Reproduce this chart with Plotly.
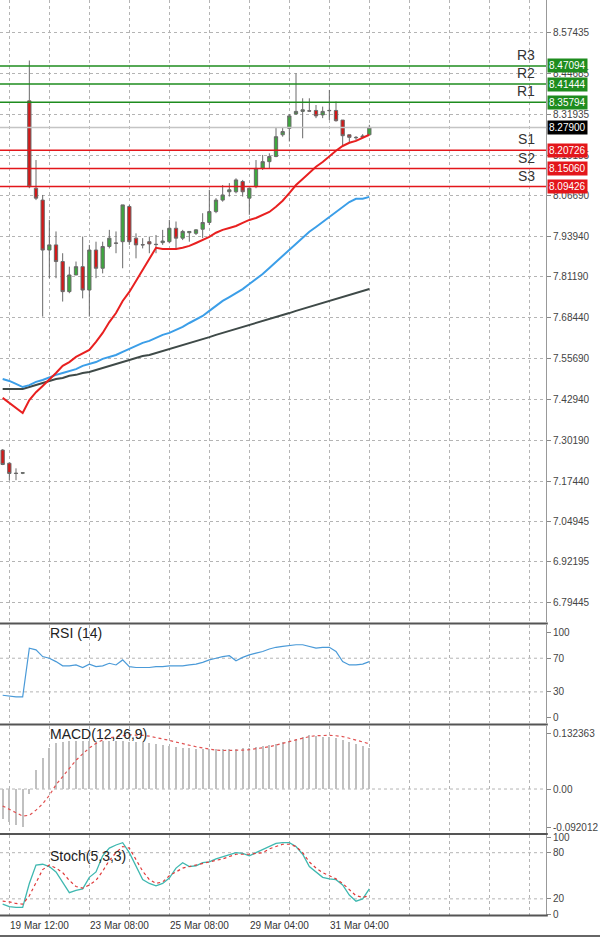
import plotly.graph_objects as go

W, H = 600, 938
idx = list(range(56))

opens  = [7.271,7.230,7.199,7.199,8.362,8.089,8.052,7.896,7.912,7.860,7.766,7.818,7.844,7.771,7.896,7.839,7.907,7.918,7.922,8.032,
          7.933,7.913,7.922,7.914,7.919,7.922,7.964,7.933,7.950,7.948,7.961,7.982,8.016,8.052,8.078,8.078,8.110,8.058,8.094,8.151,
          8.172,8.188,8.256,8.276,8.321,8.329,8.331,8.332,8.318,8.331,8.332,8.302,8.256,8.248,8.248,8.256]
highs  = [7.274,7.232,7.214,7.202,8.488,8.177,8.068,7.990,7.954,7.886,7.844,7.860,7.938,7.912,7.922,7.922,7.959,7.954,8.037,8.037,
          7.948,7.933,7.938,7.943,7.959,7.990,7.985,7.959,7.954,7.961,8.011,8.084,8.058,8.099,8.105,8.120,8.115,8.089,8.177,8.193,
          8.198,8.280,8.280,8.321,8.448,8.370,8.370,8.349,8.344,8.396,8.360,8.302,8.256,8.252,8.258,8.287]
lows   = [7.224,7.177,7.177,7.196,8.089,8.052,7.688,7.808,7.808,7.735,7.761,7.818,7.745,7.688,7.808,7.823,7.901,7.886,7.839,7.912,
          7.870,7.901,7.886,7.886,7.912,7.917,7.896,7.927,7.922,7.943,7.933,7.974,8.011,8.047,8.063,8.073,8.063,8.006,8.089,8.146,
          8.151,8.186,8.250,8.235,8.318,8.245,8.329,8.308,8.308,8.302,8.297,8.221,8.230,8.240,8.248,8.256]
closes = [7.226,7.198,7.198,7.200,8.094,8.058,7.896,7.912,7.860,7.766,7.818,7.844,7.771,7.896,7.839,7.907,7.933,7.917,8.037,7.922,
          7.912,7.912,7.915,7.913,7.924,7.964,7.933,7.954,7.954,7.959,7.982,8.016,8.052,8.068,8.084,8.115,8.078,8.089,8.151,8.172,
          8.188,8.250,8.266,8.315,8.329,8.334,8.330,8.315,8.329,8.332,8.300,8.253,8.248,8.247,8.252,8.279]

ma_fast = [7.434,7.418,7.403,7.387,7.427,7.452,7.471,7.490,7.512,7.534,7.546,7.562,7.574,7.584,7.609,7.637,7.671,7.699,7.737,7.765,
           7.799,7.834,7.868,7.903,7.899,7.899,7.899,7.903,7.909,7.918,7.928,7.937,7.950,7.959,7.965,7.971,7.981,7.990,7.996,8.006,
           8.015,8.031,8.050,8.074,8.099,8.118,8.137,8.156,8.171,8.190,8.206,8.221,8.231,8.237,8.246,8.256]
ma_mid = [7.493,7.487,7.478,7.468,7.474,7.484,7.490,7.499,7.506,7.512,7.518,7.524,7.534,7.540,7.546,7.556,7.562,7.568,7.578,7.587,
          7.596,7.606,7.612,7.621,7.631,7.637,7.646,7.656,7.668,7.678,7.690,7.706,7.721,7.737,7.749,7.762,7.774,7.790,7.806,7.821,
          7.840,7.859,7.878,7.899,7.918,7.937,7.953,7.968,7.984,7.999,8.015,8.031,8.046,8.056,8.056,8.062]
ma_slow = [7.462,7.462,7.462,7.462,7.468,7.474,7.481,7.487,7.493,7.496,7.503,7.506,7.512,7.515,7.521,7.528,7.534,7.540,7.546,7.553,
           7.559,7.565,7.568,7.574,7.581,7.587,7.593,7.599,7.606,7.612,7.618,7.624,7.631,7.637,7.643,7.649,7.656,7.662,7.668,7.674,
           7.681,7.687,7.693,7.699,7.706,7.712,7.718,7.724,7.731,7.737,7.743,7.749,7.756,7.762,7.768,7.774]

rsi = [26,25,24,24,82,80,72,70,66,61,61,62,59,63,60,61,64,62,68,60,59,59,59,60,60,61,61,61,62,63,65,68,70,72,73,67,71,74,76,78,
       81,83,84,85,86,86,84,82,83,83,78,66,62,62,63,66]
macd_hist = [-0.072,-0.078,-0.085,-0.090,-0.012,0.044,0.074,0.097,0.108,0.111,0.113,0.113,0.113,0.113,0.113,0.113,0.113,0.113,0.113,0.112,
             0.111,0.110,0.108,0.106,0.104,0.101,0.099,0.097,0.096,0.094,0.094,0.094,0.094,0.094,0.094,0.095,0.096,0.097,0.099,0.101,
             0.104,0.107,0.110,0.113,0.118,0.123,0.127,0.125,0.123,0.122,0.120,0.116,0.111,0.106,0.101,0.097]
macd_signal = [-0.040,-0.048,-0.056,-0.064,-0.062,-0.050,-0.035,-0.015,0.010,0.030,0.050,0.068,0.083,0.097,0.108,0.116,0.121,0.124,0.126,0.128,
               0.128,0.127,0.125,0.122,0.119,0.115,0.111,0.107,0.104,0.100,0.097,0.094,0.092,0.091,0.091,0.091,0.092,0.093,0.095,0.097,
               0.100,0.104,0.108,0.112,0.117,0.121,0.124,0.126,0.127,0.127,0.126,0.124,0.120,0.116,0.112,0.107]
stoch_k = [13,10,9,9,40,64,65,62,55,42,28,31,33,48,55,76,86,90,93,80,62,45,40,37,40,47,60,67,62,63,67,68,72,75,78,80,79,76,80,84,
           89,92,93,93,88,78,62,55,48,46,45,38,25,17,20,33]
stoch_d = [17,16,14,13,24,40,58,64,60,54,44,36,34,38,44,56,70,80,88,86,70,56,45,40,42,50,55,60,62,64,66,68,70,72,75,78,78,78,79,80,
           85,88,91,91,88,80,68,60,54,50,46,40,32,24,22,24]

levels = [("R3", 8.47094, "#1e8c1e"), ("R2", 8.41444, "#1e8c1e"), ("R1", 8.35794, "#1e8c1e"),
          ("S1", 8.20726, "#e3161b"), ("S2", 8.15060, "#e3161b"), ("S3", 8.09426, "#e3161b")]
last_price = 8.27900

main_ticks = [8.57435,8.44685,8.31935,8.19185,8.06690,7.93940,7.81190,7.68440,7.55690,7.42940,7.30190,7.17440,7.04945,6.92195,6.79445]
main_ticktext = ["8.57435","8.44685","8.31935","8.19185","8.06690","7.93940","7.81190","7.68440","7.55690","7.42940","7.30190","7.17440","7.04945","6.92195","6.79445"]
date_ticks = [1, 13, 25, 37, 49]
date_labels = ["19 Mar 12:00", "23 Mar 08:00", "25 Mar 08:00", "29 Mar 04:00", "31 Mar 04:00"]

XR = [-0.4, 81.5]
XD = [0, 546 / W]
def py(p):  # pixel row -> paper
    return 1 - p / H

FONT = "Liberation Sans"
fig = go.Figure()
fig.add_trace(go.Candlestick(x=idx, open=opens, high=highs, low=lows, close=closes,
                             increasing=dict(line=dict(color="#6a6a6a", width=1), fillcolor="#3da83d"),
                             decreasing=dict(line=dict(color="#6a6a6a", width=1), fillcolor="#d41818"),
                             whiskerwidth=0, xaxis="x", yaxis="y", showlegend=False))
fig.add_trace(go.Scatter(x=idx, y=ma_slow, mode="lines", line=dict(color="#3f4a48", width=2), xaxis="x", yaxis="y"))
fig.add_trace(go.Scatter(x=idx, y=ma_mid, mode="lines", line=dict(color="#3b9ee8", width=2), xaxis="x", yaxis="y"))
fig.add_trace(go.Scatter(x=idx, y=ma_fast, mode="lines", line=dict(color="#e82020", width=2), xaxis="x", yaxis="y"))
fig.add_trace(go.Scatter(x=idx, y=rsi, mode="lines", line=dict(color="#4a9ad8", width=1.2), xaxis="x2", yaxis="y2"))
fig.add_trace(go.Bar(x=idx, y=macd_hist, width=0.18, marker=dict(color="#c0c0c0", line=dict(width=0)), xaxis="x3", yaxis="y3"))
fig.add_trace(go.Scatter(x=idx, y=macd_signal, mode="lines", line=dict(color="#e05050", width=1.2, dash="dot"), xaxis="x3", yaxis="y3"))
fig.add_trace(go.Scatter(x=idx, y=stoch_k, mode="lines", line=dict(color="#3fb8b0", width=1.3), xaxis="x4", yaxis="y4"))
fig.add_trace(go.Scatter(x=idx, y=stoch_d, mode="lines", line=dict(color="#e03a3a", width=1.2, dash="dot"), xaxis="x4", yaxis="y4"))

grid = dict(showgrid=True, gridcolor="#b4b4b4", griddash="dot", gridwidth=1)
xcommon = dict(range=XR, domain=XD, tick0=1, dtick=6, showticklabels=False, zeroline=False, ticks="", automargin=False, **grid)
ycommon = dict(side="right", ticks="outside", ticklen=4, tickcolor="#888", zeroline=False, automargin=False,
               tickfont=dict(family=FONT, size=10, color="#444"), showline=True, linecolor="#999", linewidth=1)

doms = {"y": [py(622), 1], "y2": [py(723), py(625)], "y3": [py(833), py(726)], "y4": [py(915), py(835)]}
layout = dict(width=W, height=H, margin=dict(l=0, r=0, t=0, b=0, autoexpand=False), paper_bgcolor="white", plot_bgcolor="white",
              showlegend=False, bargap=0)
layout["xaxis"] = dict(anchor="y", rangeslider=dict(visible=False), **xcommon)
for n, ya in [(2, "y2"), (3, "y3"), (4, "y4")]:
    layout[f"xaxis{n}"] = dict(anchor=ya, matches="x", **xcommon)
layout["yaxis"] = dict(anchor="x", domain=doms["y"], range=[6.734, 8.677], tickvals=main_ticks, ticktext=main_ticktext, **grid, **ycommon)
layout["yaxis2"] = dict(anchor="x2", domain=doms["y2"], range=[-7, 109.5], tickvals=[100, 70, 30, 0], showgrid=False, **ycommon)
layout["yaxis3"] = dict(anchor="x3", domain=doms["y3"], range=[-0.104, 0.149], tickvals=[0.132363, 0, -0.092012],
                        ticktext=["0.132363", "0.00", "-0.092012"], showgrid=False, **ycommon)
layout["yaxis4"] = dict(anchor="x4", domain=doms["y4"], range=[-1, 103], tickvals=[100, 80, 20, 0], showgrid=False, **ycommon)
fig.update_layout(**layout)

shapes = []
def hline(yref, v, color, width=1, dash="solid"):
    shapes.append(dict(type="line", xref="paper", yref=yref,
                       x0=0, x1=XD[1], y0=v, y1=v, line=dict(color=color, width=width, dash=dash), layer="below"))
hline("y2", 70, "#b4b4b4", dash="dot"); hline("y2", 30, "#b4b4b4", dash="dot")
hline("y3", 0, "#b4b4b4", dash="dot")
hline("y4", 80, "#b4b4b4", dash="dot"); hline("y4", 20, "#b4b4b4", dash="dot")
shapes.append(dict(type="line", xref="paper", yref="y", x0=0, x1=XD[1], y0=last_price, y1=last_price,
                   line=dict(color="#c4c4c4", width=1.5)))
anns = []
for name, v, col in levels:
    shapes.append(dict(type="line", xref="paper", yref="y", x0=0, x1=XD[1], y0=v, y1=v, line=dict(color=col, width=1.5)))
    anns.append(dict(x=XD[1] - 0.015, y=v, xref="paper", yref="y", text=name, showarrow=False, xanchor="right", yanchor="bottom",
                     yshift=1, font=dict(family=FONT, size=14, color="#333")))
    anns.append(dict(x=XD[1] + 0.002, y=v, xref="paper", yref="y", text=f"{v:.5f}", showarrow=False, xanchor="left",
                     bgcolor=col, borderpad=1, font=dict(family=FONT, size=10, color="white")))
anns.append(dict(x=XD[1] + 0.002, y=last_price, xref="paper", yref="y", text=f"{last_price:.5f}", showarrow=False, xanchor="left",
                 bgcolor="#000000", borderpad=1, font=dict(family=FONT, size=10, color="white")))
for p in [623.5, 724.5, 834, 915.5]:
    shapes.append(dict(type="line", xref="paper", yref="paper", x0=0, x1=XD[1] + 0.003, y0=py(p), y1=py(p),
                       line=dict(color="#555", width=2)))
shapes.append(dict(type="line", xref="paper", yref="paper", x0=0, x1=1, y0=py(936), y1=py(936), line=dict(color="#666", width=2)))

for ttl, px_ in [("RSI (14)", 633), ("MACD(12,26,9)", 734), ("Stoch(5,3,3)", 856)]:
    anns.append(dict(x=48 / W, y=py(px_), xref="paper", yref="paper", text=ttl, showarrow=False, xanchor="left", yanchor="middle",
                     font=dict(family=FONT, size=14, color="#222")))
for t, lab in zip(date_ticks, date_labels):
    anns.append(dict(x=t, y=py(925), xref="x4", yref="paper", text=lab, showarrow=False, xanchor="left", yanchor="middle", xshift=-1,
                     font=dict(family=FONT, size=10, color="#333")))
fig.update_layout(shapes=shapes, annotations=anns)
fig.write_html("out.html", config={"displayModeBar": False})

with open("out.html", encoding="utf-8") as f:
    html = f.read()
html = html.replace("<head>", "<head><style>html,body{margin:0;padding:0;overflow:hidden;}</style>", 1)
with open("out.html", "w", encoding="utf-8") as f:
    f.write(html)
